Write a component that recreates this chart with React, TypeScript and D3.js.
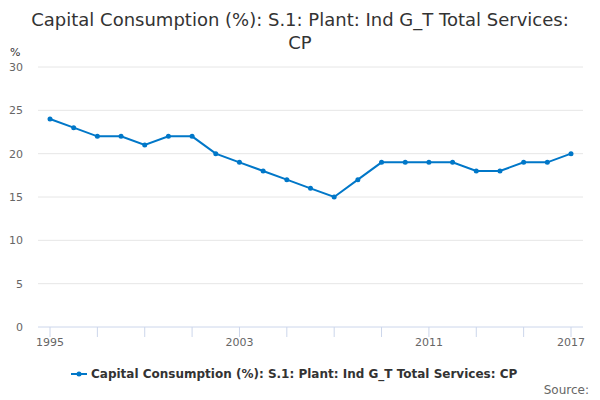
import * as d3 from "d3";

const years = d3.range(1995, 2018);
const values = [24, 23, 22, 22, 21, 22, 22, 20, 19, 18, 17, 16, 15, 17, 19, 19, 19, 19, 18, 18, 19, 19, 20];
const yTicks = [0, 5, 10, 15, 20, 25, 30];
const xLabels = [1995, 2003, 2011, 2017];
const seriesName = "Capital Consumption (%): S.1: Plant: Ind G_T Total Services: CP";

export default function App() {
  const W = 600, H = 400;
  const x = d3.scaleLinear().domain([1995, 2017]).range([50, 571]);
  const y = d3.scaleLinear().domain([0, 30]).range([327, 67]);
  const line = d3.line<number>().x((_, i) => x(years[i])).y((d) => y(d));
  const font = "'DejaVu Sans', sans-serif";
  const color = "#0077c8";
  return (
    <svg width={W} height={H} style={{ position: "absolute", left: 0, top: 0, fontFamily: font }}>
      <rect width={W} height={H} fill="#fff" />
      <text x={300} y={26} textAnchor="middle" fontSize={18} fill="#333">Capital Consumption (%): S.1: Plant: Ind G_T Total Services:</text>
      <text x={300} y={49} textAnchor="middle" fontSize={18} fill="#333">CP</text>
      <text x={10} y={56} fontSize={11} fill="#333">%</text>
      {yTicks.map((t) => (
        <g key={t}>
          <line x1={38} x2={583} y1={y(t)} y2={y(t)} stroke={t === 0 ? "#ccd6eb" : "#e6e6e6"} />
          <text x={23} y={y(t) + 4} textAnchor="end" fontSize={11} fill="#666">{t}</text>
        </g>
      ))}
      {years.filter((yr) => (yr - 1995) % 2 === 0).map((yr) => (
        <line key={yr} x1={x(yr)} x2={x(yr)} y1={327} y2={337} stroke="#ccd6eb" />
      ))}
      {xLabels.map((yr) => (
        <text key={yr} x={x(yr)} y={346} textAnchor="middle" fontSize={11} fill="#666">{yr}</text>
      ))}
      <path d={line(values) ?? ""} fill="none" stroke={color} strokeWidth={2} />
      {values.map((v, i) => (
        <circle key={i} cx={x(years[i])} cy={y(v)} r={2.5} fill={color} />
      ))}
      <line x1={71} x2={87} y1={374} y2={374} stroke={color} strokeWidth={2} />
      <circle cx={79} cy={374} r={2.5} fill={color} />
      <text x={91} y={378} fontSize={12} fontWeight="bold" fill="#333">{seriesName}</text>
      <text x={589} y={394} textAnchor="end" fontSize={12} fill="#666">Source:</text>
    </svg>
  );
}
